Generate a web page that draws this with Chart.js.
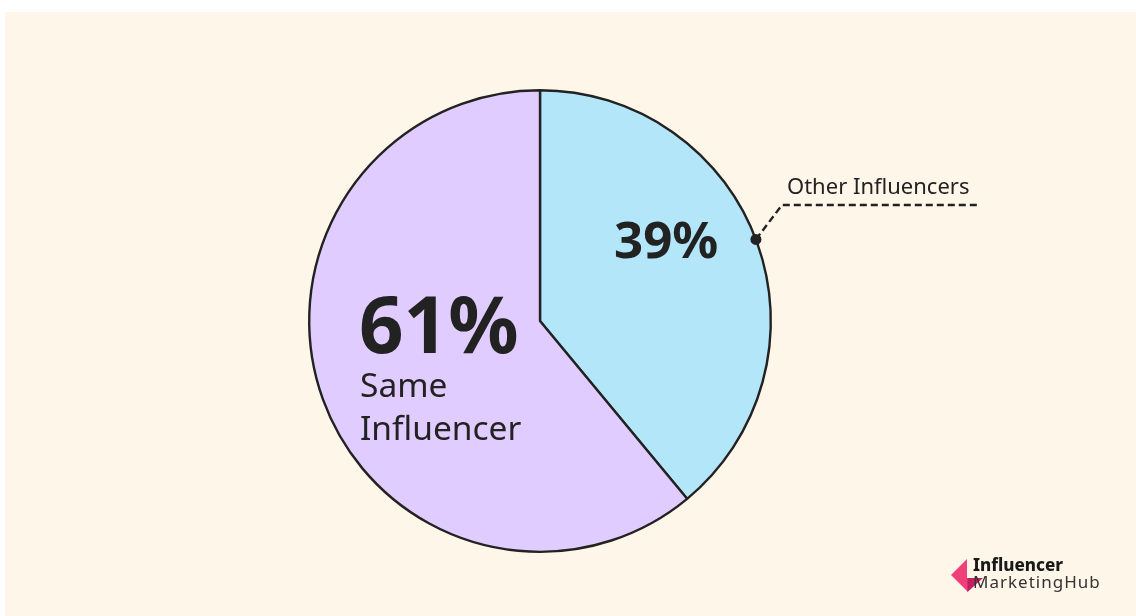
<!DOCTYPE html>
<html>
<head>
<meta charset="utf-8">
<script src="https://cdn.jsdelivr.net/npm/chart.js@4"></script>
<style>
html,body{margin:0;padding:0;background:#fff;}
#wrap{position:absolute;left:0;top:0;width:1136px;height:616px;}
</style>
</head>
<body>
<div id="wrap"><canvas id="c" width="1136" height="616"></canvas></div>
<script>
const categories = ["Other Influencers", "Same Influencer"];
const values = [39, 61];
const percentLabels = ["39%", "61%"];
const colors = ["#B2E6F8", "#E1CCFF"];

const bgPlugin = {
  id: 'bg',
  beforeDraw(chart) {
    const ctx = chart.ctx;
    ctx.save();
    ctx.fillStyle = '#ffffff';
    ctx.fillRect(0, 0, chart.width, chart.height);
    ctx.fillStyle = '#FFF6EA';
    ctx.fillRect(5, 12, chart.width - 5, chart.height - 12);
    ctx.restore();
  }
};

const labelPlugin = {
  id: 'labels',
  afterDraw(chart) {
    const ctx = chart.ctx;
    const arc = chart.getDatasetMeta(0).data[0];
    const cx = arc.x, cy = arc.y, r = arc.outerRadius;
    ctx.save();
    ctx.fillStyle = '#222222';
    ctx.textBaseline = 'alphabetic';
    ctx.textAlign = 'left';
    // 39%
    ctx.font = 'bold 51px "Noto Sans"';
    ctx.fillText(percentLabels[0], 614, 258);
    // 61%
    ctx.font = 'bold 78px "Noto Sans"';
    ctx.fillText(percentLabels[1], 359, 353);
    ctx.font = '33.5px "Noto Sans"';
    ctx.fillText('Same', 360, 397);
    ctx.fillText('Influencer', 360, 440);
    // leader
    const ang = 69.3 * Math.PI / 180;
    const dx = cx + r * Math.sin(ang), dy = cy - r * Math.cos(ang);
    ctx.strokeStyle = '#222222';
    ctx.lineWidth = 2.4;
    ctx.setLineDash([7, 4]);
    ctx.beginPath();
    ctx.moveTo(dx, dy);
    ctx.lineTo(782, 205);
    ctx.lineTo(978, 205);
    ctx.stroke();
    ctx.setLineDash([]);
    ctx.beginPath();
    ctx.arc(dx, dy, 5.5, 0, Math.PI * 2);
    ctx.fill();
    ctx.font = '22px "Noto Sans"';
    ctx.fillText(categories[0], 787, 194);
    // logo
    ctx.fillStyle = '#F0407A';
    ctx.beginPath();
    ctx.moveTo(967, 559); ctx.lineTo(951, 575); ctx.lineTo(968, 592); ctx.lineTo(968, 578); ctx.lineTo(967, 578); ctx.closePath();
    ctx.fill();
    ctx.fillStyle = '#C21F5E';
    ctx.beginPath();
    ctx.moveTo(967.5, 578); ctx.lineTo(983, 578); ctx.lineTo(967.5, 592); ctx.closePath();
    ctx.fill();
    ctx.fillStyle = '#1a1a1a';
    ctx.font = '800 17px "Noto Sans"';
    ctx.fillText('Influencer', 973, 571);
    ctx.fillStyle = '#333333';
    ctx.font = '17px "Noto Sans"';
    ctx.letterSpacing = '1px';
    ctx.fillText('MarketingHub', 973, 588);
    ctx.restore();
  }
};

new Chart(document.getElementById('c'), {
  type: 'pie',
  data: {
    labels: categories,
    datasets: [{
      data: values,
      backgroundColor: colors,
      borderColor: '#222222',
      borderWidth: 2.4,
      hoverOffset: 0
    }]
  },
  options: {
    responsive: false,
    animation: false,
    devicePixelRatio: 1,
    layout: { padding: { left: 300, right: 356, top: 89, bottom: 63 } },
    plugins: { legend: { display: false }, tooltip: { enabled: false } },
    events: []
  },
  plugins: [bgPlugin, labelPlugin]
});
</script>
</body>
</html>
